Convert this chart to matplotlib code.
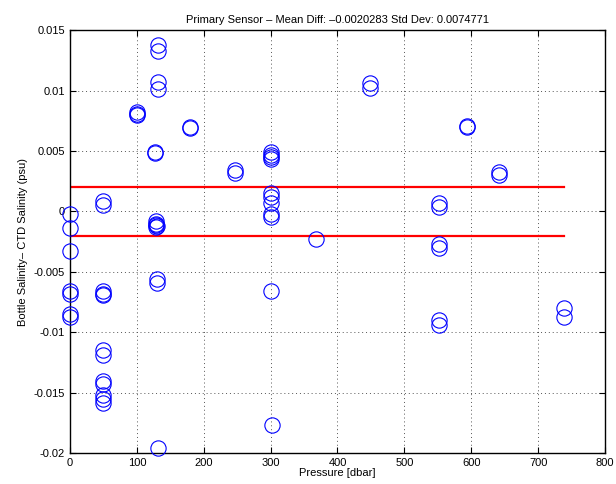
import matplotlib
matplotlib.use('Agg')
from matplotlib import pyplot as plt

plt.rcParams['font.family'] = ['Liberation Sans', 'DejaVu Sans']
plt.rcParams['axes.unicode_minus'] = False

# 数据：压力 与 瓶采样盐度 - CTD 盐度
pressure = [0, 0, 0, 0, 0, 0, 0,
            49, 49, 50, 50, 50, 50, 50, 49, 49, 49, 49, 49,
            100, 100, 100,
            127, 127,
            128, 129, 129, 130, 129, 130, 130,
            131, 131, 132, 132, 132,
            180, 180,
            247, 247,
            300, 300, 300, 300, 300, 300, 301, 300, 301, 301, 302,
            368,
            449, 449,
            593, 593,
            552, 552, 552, 552, 552, 552,
            641, 641,
            739, 739]
diff = [-0.0002, -0.0014, -0.0033, -0.0066, -0.0068, -0.0085, -0.0087,
        0.0009, 0.00055, -0.0066, -0.0068, -0.0069, -0.0115, -0.0119, -0.0140, -0.0143, -0.0152, -0.0155, -0.0159,
        0.0080, 0.0081, 0.0082,
        0.0049, 0.0048,
        -0.0008, -0.0010, -0.0011, -0.0012, -0.0013, -0.0056, -0.0059,
        0.0138, 0.0133, 0.0107, 0.0101, -0.0196,
        0.0070, 0.0069,
        0.0034, 0.0032,
        0.0049, 0.0047, 0.0045, 0.0043, 0.0015, 0.0012, 0.0007, -0.0002, -0.0005, -0.0066, -0.0177,
        -0.0023,
        0.0106, 0.0102,
        0.0071, 0.0070,
        0.0007, 0.0004, -0.0027, -0.0030, -0.0090, -0.0094,
        0.0033, 0.0030,
        -0.0080, -0.0087]

mean_diff = -0.0020283
std_dev = 0.0074771

x_ticks = [0, 100, 200, 300, 400, 500, 600, 700, 800]
y_ticks = [-0.02, -0.015, -0.01, -0.005, 0, 0.005, 0.01, 0.015]
y_tick_labels = ['-0.02', '-0.015', '-0.01', '-0.005', '0', '0.005', '0.01', '0.015']

fig = plt.figure(figsize=(6.16, 4.84), dpi=100)
ax = fig.add_axes([0.1136, 0.064, 0.8685, 0.8735])

ax.plot(pressure, diff, 'o', mfc='none', mec='blue', ms=11, mew=0.8, ls='none',
        clip_on=False, zorder=3)

# 平均差 的 上下两条线
p_min, p_max = min(pressure), max(pressure)
ax.plot([p_min, p_max], [mean_diff, mean_diff], c='red', lw=1.6)
ax.plot([p_min, p_max], [-mean_diff, -mean_diff], c='red', lw=1.6)

ax.set_xlim(0, 800)
ax.set_ylim(-0.02, 0.015)
ax.set_xticks(x_ticks)
ax.set_yticks(y_ticks)
ax.set_yticklabels(y_tick_labels)
ax.grid(True, ls=(0, (1, 3)), c='#555555', lw=0.7)
ax.tick_params(direction='in', top=True, right=True, labelsize=8, length=4)
for spine in ax.spines.values():
    spine.set_linewidth(1.0)

ax.set_title('Primary Sensor \u2013 Mean Diff: \u20130.0020283 Std Dev: 0.0074771', fontsize=8, pad=5)
ax.set_xlabel('Pressure [dbar]', fontsize=8, labelpad=0)
ax.set_ylabel('Bottle Salinity\u2013 CTD Salinity (psu)', fontsize=8, labelpad=4)

plt.savefig('out.png', dpi=100)
